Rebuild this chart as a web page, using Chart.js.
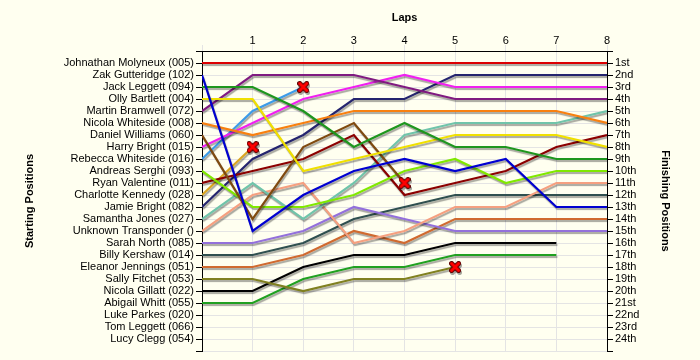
<!DOCTYPE html>
<html>
<head>
<meta charset="utf-8">
<script src="https://cdn.jsdelivr.net/npm/chart.js@4"></script>
<style>
  html, body { margin: 0; padding: 0; background: #fffff0; }
  #wrap { width: 700px; height: 360px; }
</style>
</head>
<body>
<div id="wrap"><canvas id="myChart" width="700" height="360"></canvas></div>
<script>
// starting grid (row = starting position)
const drivers = [
  "Johnathan Molyneux (005)", "Zak Gutteridge (102)", "Jack Leggett (094)", "Olly Bartlett (004)",
  "Martin Bramwell (072)", "Nicola Whiteside (008)", "Daniel Williams (060)", "Harry Bright (015)",
  "Rebecca Whiteside (016)", "Andreas Serghi (093)", "Ryan Valentine (011)", "Charlotte Kennedy (028)",
  "Jamie Bright (082)", "Samantha Jones (027)", "Unknown Transponder ()", "Sarah North (085)",
  "Billy Kershaw (014)", "Eleanor Jennings (051)", "Sally Fitchet (053)", "Nicola Gillatt (022)",
  "Abigail Whitt (055)", "Luke Parkes (020)", "Tom Leggett (066)", "Lucy Clegg (054)",
];

const finishLabels = [
  "1st", "2nd", "3rd", "4th", "5th", "6th", "7th", "8th", "9th", "10th", "11th", "12th",
  "13th", "14th", "15th", "16th", "17th", "18th", "19th", "20th", "21st", "22nd", "23rd", "24th",
];

const laps = [0, 1, 2, 3, 4, 5, 6, 7, 8];

// position at each lap (index 0 = start)
const molyneux = [1, 1, 1, 1, 1, 1, 1, 1, 1];
const gutteridge = [2, 15, 12, 10, 9, 10, 9, 13, 13];
const leggettJ = [3, 3, 5, 8, 6, 8, 8, 9, 9];
const bartlett = [4, 4, 10, 9, 8, 7, 7, 7, 8];
const bramwell = [5, 2, 2, 2, 3, 4, 4, 4, 4];
const whitesideN = [6, 7, 6, 5, 5, 5, 5, 5, 6];
const williams = [7, 14, 8, 6, 11];
const brightH = [8, 6, 4, 3, 2, 3, 3, 3, 3];
const whitesideR = [9, 5, 3];
const serghi = [10, 13, 13, 12, 10, 9, 11, 10, 10];
const valentine = [11, 10, 9, 7, 12, 11, 10, 8, 7];
const kennedy = [12, 8];
const brightJ = [13, 9, 7, 4, 4, 2, 2, 2, 2];
const jones = [14, 11, 14, 11, 7, 6, 6, 6, 5];
const unknown = [15, 12, 11, 16, 15, 13, 13, 11, 11];
const north = [16, 16, 15, 13, 14, 15, 15, 15, 15];
const kershaw = [17, 17, 16, 14, 13, 12, 12, 12, 12];
const jennings = [18, 18, 17, 15, 16, 14, 14, 14, 14];
const fitchet = [19, 19, 20, 19, 19, 18];
const gillatt = [20, 20, 18, 17, 17, 16, 16, 16];
const whitt = [21, 21, 19, 18, 18, 17, 17, 17];
const parkes = [];
const leggettT = [];
const clegg = [];

const positions = [
  molyneux, gutteridge, leggettJ, bartlett, bramwell, whitesideN, williams, brightH,
  whitesideR, serghi, valentine, kennedy, brightJ, jones, unknown, north,
  kershaw, jennings, fitchet, gillatt, whitt, parkes, leggettT, clegg,
];

// who retired (X at last point)
const retired = ["Daniel Williams (060)", "Rebecca Whiteside (016)", "Charlotte Kennedy (028)", "Sally Fitchet (053)"];

const colors = [
  "#dc0000", "#0000d0", "#1e961e", "#f0e000", "#801a80", "#f88010", "#7f4a10", "#f020f0",
  "#3c9be8", "#80e800", "#8b0000", "#daa520", "#24246e", "#70c4aa", "#f5a080", "#9370db",
  "#2f4f4f", "#d06a30", "#808020", "#000000", "#20a020", "#888888", "#888888", "#888888",
];

// red X marker
function makeCross() {
  const c = document.createElement("canvas");
  c.width = 12;
  c.height = 12;
  const g = c.getContext("2d");
  g.lineCap = "round";
  g.beginPath();
  g.moveTo(2.5, 2.5); g.lineTo(9.5, 9.5);
  g.moveTo(9.5, 2.5); g.lineTo(2.5, 9.5);
  g.strokeStyle = "#600000";
  g.lineWidth = 5;
  g.stroke();
  g.strokeStyle = "#ff0000";
  g.lineWidth = 3;
  g.stroke();
  return c;
}
const cross = makeCross();

const datasets = drivers.map((name, i) => {
  const pos = positions[i];
  const out = retired.includes(name);
  return {
    label: name,
    data: pos.map((p, lap) => ({ x: laps[lap], y: p })),
    borderColor: colors[i],
    backgroundColor: colors[i],
    borderWidth: 2.2,
    tension: 0,
    fill: false,
    pointRadius: (ctx) => (out && ctx.dataIndex === pos.length - 1 ? 6 : 0),
    pointStyle: (ctx) => (out && ctx.dataIndex === pos.length - 1 ? cross : "circle"),
  };
});

// grey drop shadow under the lines
const shadowPlugin = {
  id: "shadow",
  beforeDatasetsDraw(chart) {
    const ctx = chart.ctx;
    ctx.save();
    ctx.shadowColor = "rgba(0,0,0,0.35)";
    ctx.shadowOffsetX = 1;
    ctx.shadowOffsetY = 2;
    ctx.shadowBlur = 1;
  },
  afterDatasetsDraw(chart) {
    chart.ctx.restore();
  },
};

const bgPlugin = {
  id: "bg",
  beforeDraw(chart) {
    const ctx = chart.ctx;
    ctx.save();
    ctx.fillStyle = "#fffff0";
    ctx.fillRect(0, 0, chart.width, chart.height);
    ctx.restore();
  },
};

const font = { family: "'Liberation Sans', Arial, sans-serif", size: 11 };
const titleFont = { family: "'Liberation Sans', Arial, sans-serif", size: 11, weight: "bold" };

const ctx = document.getElementById("myChart").getContext("2d");
const chart = new Chart(ctx, {
  type: "line",
  data: { datasets: datasets },
  plugins: [bgPlugin, shadowPlugin],
  options: {
    responsive: false,
    animation: false,
    events: [],
    layout: { padding: { left: 0, right: 0, top: 0, bottom: 9 } },
    plugins: { legend: { display: false }, tooltip: { enabled: false } },
    scales: {
      x: {
        type: "linear",
        position: "top",
        min: 0,
        max: 8,
        afterFit: (s) => { s.height = 51; },
        ticks: {
          stepSize: 1,
          color: "#000",
          font: font,
          padding: -3,
          maxRotation: 0,
          callback: (v) => (v === 0 ? "" : v),
        },
        grid: { color: "#e4e4e4", tickColor: "#e4e4e4", tickLength: 6 },
        border: { color: "#000", width: 1 },
        title: { display: true, text: "Laps", color: "#000", font: titleFont, padding: { top: 11, bottom: 0 } },
      },
      y: {
        type: "linear",
        position: "left",
        min: 0,
        max: 25,
        reverse: true,
        afterFit: (s) => { s.width = 202; },
        ticks: {
          stepSize: 1,
          autoSkip: false,
          color: "#000",
          font: font,
          padding: 2,
          callback: (v) => drivers[v - 1] || "",
        },
        grid: { color: "#e4e4e4", tickColor: "#000", tickLength: 6 },
        border: { color: "#000", width: 1 },
        title: { display: true, text: "Starting Positions", color: "#000", font: titleFont, padding: { top: 23, bottom: 0 } },
      },
      y2: {
        type: "linear",
        position: "right",
        min: 0,
        max: 25,
        reverse: true,
        afterFit: (s) => { s.width = 93; },
        ticks: {
          stepSize: 1,
          autoSkip: false,
          color: "#000",
          font: font,
          padding: 2,
          callback: (v) => finishLabels[v - 1] || "",
        },
        grid: { drawOnChartArea: false, tickColor: "#000", tickLength: 6 },
        border: { color: "#000", width: 1 },
        title: { display: true, text: "Finishing Positions", color: "#000", font: titleFont, padding: { top: 28, bottom: 0 } },
      },
    },
  },
});
</script>
</body>
</html>
